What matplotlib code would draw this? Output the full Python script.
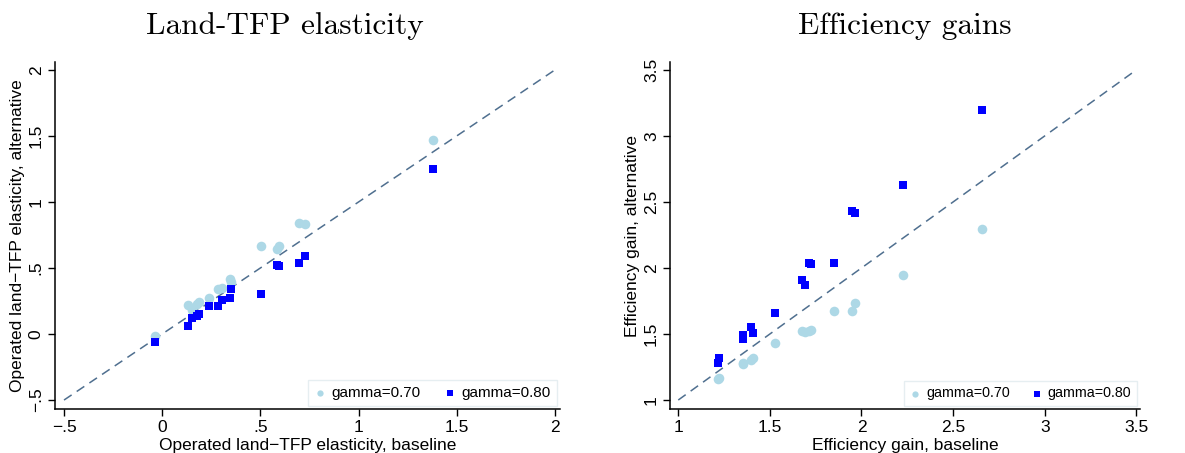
import matplotlib.pyplot as plt

# Left panel: land-TFP elasticity, baseline vs alternative
elast_base = [-0.037, 0.132, 0.150, 0.176, 0.190, 0.240, 0.282, 0.307,
              0.344, 0.350, 0.503, 0.583, 0.593, 0.695, 0.727, 1.381]
elast_g70 = [-0.013, 0.222, 0.179, 0.227, 0.245, 0.272, 0.343, 0.350,
             0.420, 0.394, 0.667, 0.646, 0.667, 0.838, 0.833, 1.472]
elast_g80 = [-0.063, 0.058, 0.118, 0.133, 0.154, 0.209, 0.209, 0.260,
             0.270, 0.338, 0.305, 0.525, 0.512, 0.535, 0.588, 1.247]

# Right panel: efficiency gains
gain_base = [1.215, 1.220, 1.353, 1.353, 1.399, 1.406, 1.530, 1.677,
             1.690, 1.715, 1.722, 1.848, 1.950, 1.967, 2.229, 2.658]
gain_g70 = [1.162, 1.165, 1.275, 1.278, 1.303, 1.316, 1.429, 1.525,
            1.515, 1.523, 1.530, 1.674, 1.674, 1.732, 1.947, 2.298]
gain_g80 = [1.283, 1.318, 1.465, 1.492, 1.553, 1.510, 1.659, 1.907,
            1.874, 2.035, 2.030, 2.040, 2.432, 2.417, 2.629, 3.197]

elast_ticks = [-0.5, 0, 0.5, 1, 1.5, 2]
elast_labels = ["\u2212.5", "0", ".5", "1", "1.5", "2"]
gain_ticks = [1, 1.5, 2, 2.5, 3, 3.5]
gain_labels = ["1", "1.5", "2", "2.5", "3", "3.5"]

LIGHT = "#add8e6"
DARK = "#0000ff"
DIAG = "#4f6f8f"

plt.rcParams['font.family'] = ['Liberation Sans', 'DejaVu Sans']

fig = plt.figure(figsize=(11.85, 4.53), dpi=100)
ax1 = fig.add_axes([0.0464, 0.0971, 0.426, 0.766])
ax2 = fig.add_axes([0.5654, 0.0971, 0.3966, 0.766])


def panel(ax, xb, y70, y80, ticks, labels, lims, title, title_x,
          xlabel, ylabel, leg_size):
    lo, hi = ticks[0], ticks[-1]
    ax.plot([lo, hi], [lo, hi], ls=(0, (6, 4)), color=DIAG, lw=1.1, zorder=1)
    ax.scatter(xb, y70, s=48, marker='o', color=LIGHT, lw=0, zorder=2,
               label="gamma=0.70")
    ax.scatter(xb, y80, s=34, marker='s', color=DARK, lw=0, zorder=3,
               label="gamma=0.80")
    ax.set_xlim(lims[0], lims[1])
    ax.set_ylim(lims[2], lims[3])
    ax.set_xticks(ticks)
    ax.set_xticklabels(labels)
    ax.set_yticks(ticks)
    ax.set_yticklabels(labels, rotation=90, va='center')
    ax.tick_params(direction='out', length=5, width=1, labelsize=12.5,
                   pad=3)
    for side in ['top', 'right']:
        ax.spines[side].set_visible(False)
    for side in ['left', 'bottom']:
        ax.spines[side].set_linewidth(1.1)
    ax.set_xlabel(xlabel, fontsize=12.5, labelpad=2)
    ax.set_ylabel(ylabel, fontsize=12.5, labelpad=3)
    ax.set_title(title, fontsize=22.5, family='cmr10', pad=20, x=title_x)
    leg = ax.legend(loc='lower right', ncol=2, fontsize=leg_size,
                    frameon=True, fancybox=False, borderpad=0.4,
                    handletextpad=0.35, columnspacing=1.5, handlelength=0.8,
                    markerscale=0.65, borderaxespad=0.2)
    leg.get_frame().set_edgecolor('#e0eaee')
    leg.get_frame().set_linewidth(1.0)


panel(ax1, elast_base, elast_g70, elast_g80, elast_ticks, elast_labels,
      (-0.546, 2.025, -0.568, 2.06), "Land-TFP elasticity", 0.455,
      "Operated land\u2212TFP elasticity, baseline",
      "Operated land\u2212TFP elasticity, alternative", 11)
panel(ax2, gain_base, gain_g70, gain_g80, gain_ticks, gain_labels,
      (0.955, 3.52, 0.932, 3.56), "Efficiency gains", 0.5,
      "Efficiency gain, baseline", "Efficiency gain, alternative", 10.3)

fig.savefig("out.png", dpi=100)
